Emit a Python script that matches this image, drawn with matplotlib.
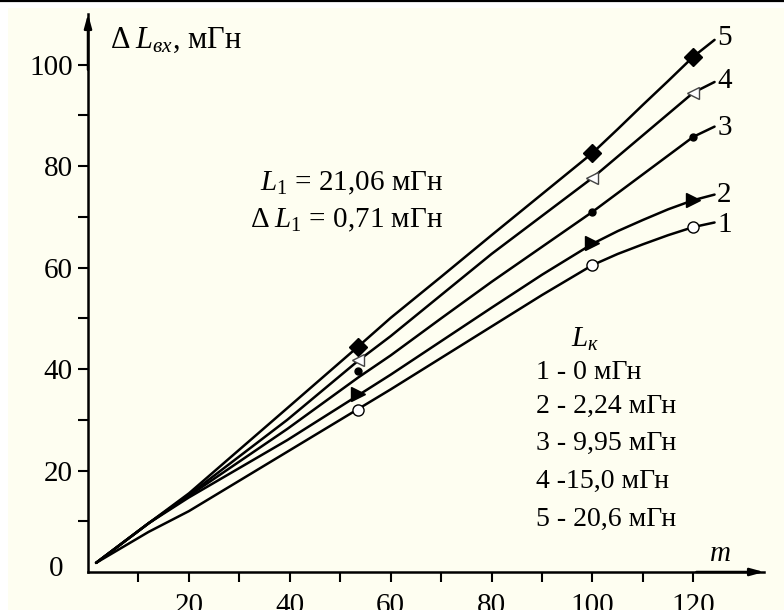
import matplotlib
matplotlib.use('Agg')
import matplotlib.pyplot as plt
from matplotlib.patches import Rectangle

plt.rcParams['font.family'] = ['Liberation Serif', 'DejaVu Serif']
plt.rcParams['mathtext.fontset'] = 'custom'
plt.rcParams['mathtext.rm'] = 'Liberation Serif'
plt.rcParams['mathtext.it'] = 'Liberation Serif:italic'

# точки кривых
m = [1.6, 12, 20, 39.5, 53.5, 60, 70, 80, 90, 100, 105, 110, 115, 120, 124.2]
L5 = [1.8, 9.6, 15.5, 32.3, 44.4, 50.1, 58.2, 66.4, 74.5, 82.6, 87.3, 92.1, 96.8, 101.6, 104.9]
L4 = [1.8, 9.6, 15.2, 30.0, 41.6, 46.5, 54.6, 62.7, 70.2, 77.7, 81.9, 86.1, 90.3, 94.5, 96.6]
L3 = [1.8, 9.6, 15.0, 28.2, 38.3, 42.7, 50.0, 57.2, 64.1, 71.0, 74.7, 78.4, 82.1, 85.8, 87.8]
L2 = [1.8, 9.6, 14.7, 26.0, 34.8, 38.9, 45.5, 52.1, 58.6, 64.7, 67.2, 69.4, 71.5, 73.3, 74.4]
L1 = [1.8, 7.9, 12.0, 23.7, 32.1, 36.0, 42.2, 48.4, 54.6, 60.5, 62.7, 64.6, 66.4, 68.0, 68.9]

# экспериментальные точки
m_pts = [53.5, 100, 120]
P5 = [44.4, 82.6, 101.6]
P4 = [41.8, 77.6, 94.4]
P3 = [39.6, 70.9, 85.7]
P2 = [35.0, 64.8, 73.4]
P1 = [32.0, 60.5, 68.1]

curve_labels = ['5', '4', '3', '2', '1']
label_y = [105.2, 96.8, 87.6, 74.4, 68.4]
legend_lines = ['1 - 0 мГн', '2 - 2,24 мГн', '3 - 9,95 мГн', '4 -15,0 мГн', '5 - 20,6 мГн']
legend_y = [39.3, 32.7, 25.4, 17.8, 10.3]

cream = '#FEFEF1'
fig = plt.figure(figsize=(7.84, 6.10), dpi=100, facecolor='white')
fig.patches.append(Rectangle((8 / 784, 0), 1, 1 - 8 / 610, transform=fig.transFigure,
                             facecolor=cream, edgecolor='none', zorder=-10))
fig.add_artist(plt.Line2D([0, 1], [1 - 1 / 610, 1 - 1 / 610], transform=fig.transFigure,
                          color='black', lw=1.6))

ax = fig.add_axes([88 / 784, 38 / 610, (764 - 88) / 784, (572 - 14) / 610])
ax.set_facecolor('none')
ax.set_xlim(0, 134)
ax.set_ylim(0, 110)

for s in ['top', 'right']:
    ax.spines[s].set_visible(False)
for s in ['left', 'bottom']:
    ax.spines[s].set_linewidth(1.8)

ax.set_xticks([20, 40, 60, 80, 100, 120])
ax.set_xticks([10, 30, 50, 70, 90, 110], minor=True)
ax.set_yticks([20, 40, 60, 80, 100])
ax.set_yticks([10, 30, 50, 70, 90], minor=True)
ax.tick_params(which='both', direction='out', length=7, width=1.5, labelsize=21)
ax.tick_params(axis='x', which='both', pad=8)
ax.tick_params(axis='y', which='both', pad=4)

# стрелки осей
arrow = dict(arrowstyle='-|>,head_length=0.8,head_width=0.22', color='black',
             lw=1.8, shrinkA=0, shrinkB=0)
ax.annotate('', xy=(1, 0), xycoords='axes fraction', xytext=(0.9, 0),
            arrowprops=arrow, annotation_clip=False)
ax.annotate('', xy=(0, 1), xycoords='axes fraction', xytext=(0, 0.9),
            arrowprops=arrow, annotation_clip=False)

for L in [L5, L4, L3, L2, L1]:
    ax.plot(m, L, color='black', lw=1.8, solid_capstyle='round', solid_joinstyle='round')

ax.plot(m_pts, P5, 'D', color='black', ms=9, ls='none')
ax.plot(m_pts, P4, '<', mfc='white', mec='#444444', mew=1.0, ms=9, ls='none')
ax.plot(m_pts, P3, 'o', color='black', ms=5, ls='none')
ax.plot(m_pts, P2, '>', color='black', ms=10, ls='none')
ax.plot(m_pts, P1, 'o', mfc='white', mec='black', mew=1.0, ms=8, ls='none')

for lab, y in zip(curve_labels, label_y):
    ax.text(124.7, y, lab, fontsize=21, ha='left', va='center')

ax.text(4.4, 104.9, r'$\Delta\;L_{вх}$, мГн', fontsize=22, ha='left', va='center')
ax.text(70.4, 76.7, r'$L_1$ = 21,06 мГн', fontsize=21, ha='right', va='center')
ax.text(70.4, 69.4, r'$\Delta\;L_1$ = 0,71 мГн', fontsize=21, ha='right', va='center')
ax.text(95.8, 45.8, r'$L_к$', fontsize=21, ha='left', va='center')
for t, y in zip(legend_lines, legend_y):
    ax.text(88.9, y, t, fontsize=20, ha='left', va='center')
ax.text(125.2, 3.6, r'$m$', fontsize=21, ha='center', va='center')
ax.text(-6.3, 0.6, '0', fontsize=21, ha='center', va='center')

fig.savefig('out.png', dpi=100, facecolor=fig.get_facecolor())
